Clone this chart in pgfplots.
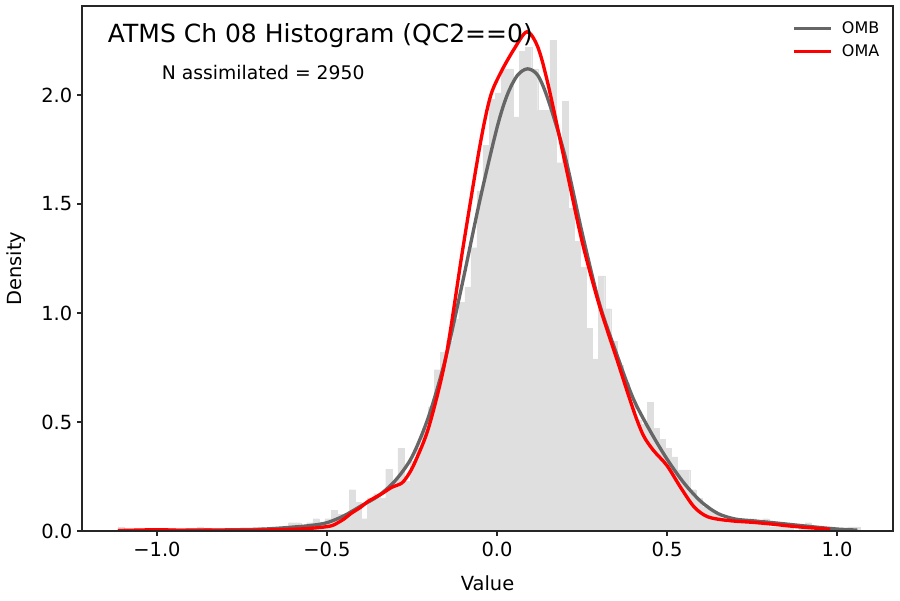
\documentclass[border=0pt]{standalone}
\usepackage{fontspec}
\setmainfont{DejaVu Sans}
\usepackage{pgfplots}
\pgfplotsset{compat=1.18}
\definecolor{histgray}{HTML}{DFDFDF}
\definecolor{ombgray}{HTML}{666666}

% histogram of departures: left bin edges and density (last row closes the final bin)
\pgfplotstableread{
x y
-1.1140 0.019
-1.0961 0
-1.0782 0
-1.0604 0
-1.0425 0
-1.0246 0
-1.0067 0
-0.9888 0
-0.9710 0
-0.9531 0
-0.9352 0
-0.9173 0
-0.8994 0
-0.8816 0.019
-0.8637 0
-0.8458 0
-0.8279 0
-0.8100 0
-0.7922 0
-0.7743 0
-0.7564 0
-0.7385 0
-0.7206 0
-0.7028 0.019
-0.6849 0
-0.6670 0.019
-0.6491 0
-0.6312 0.019
-0.6134 0.038
-0.5955 0.038
-0.5776 0.019
-0.5597 0.038
-0.5418 0.057
-0.5240 0.038
-0.5061 0.057
-0.4882 0.095
-0.4703 0.076
-0.4524 0.076
-0.4346 0.190
-0.4167 0.133
-0.3988 0.057
-0.3809 0.152
-0.3630 0.171
-0.3452 0.152
-0.3273 0.284
-0.3094 0.228
-0.2915 0.380
-0.2736 0.228
-0.2558 0.320
-0.2379 0.380
-0.2200 0.470
-0.2021 0.570
-0.1842 0.740
-0.1664 0.820
-0.1485 0.870
-0.1306 0.970
-0.1127 1.050
-0.0948 1.120
-0.0770 1.300
-0.0591 1.560
-0.0412 1.770
-0.0233 1.980
-0.0054 2.010
0.0124 2.120
0.0303 2.120
0.0482 1.900
0.0661 2.200
0.0840 2.220
0.1018 2.120
0.1197 1.930
0.1376 1.930
0.1555 2.250
0.1734 1.690
0.1912 1.970
0.2091 1.480
0.2270 1.330
0.2449 1.210
0.2628 0.930
0.2806 0.790
0.2985 1.170
0.3164 1.020
0.3343 0.870
0.3522 0.760
0.3700 0.680
0.3879 0.590
0.4058 0.510
0.4237 0.490
0.4416 0.590
0.4594 0.470
0.4773 0.420
0.4952 0.380
0.5131 0.340
0.5310 0.280
0.5488 0.280
0.5667 0.190
0.5846 0.150
0.6025 0.110
0.6204 0.095
0.6382 0.076
0.6561 0.057
0.6740 0.038
0.6919 0.038
0.7098 0.057
0.7276 0.038
0.7455 0.057
0.7634 0.038
0.7813 0.057
0.7992 0.019
0.8170 0.019
0.8349 0.038
0.8528 0.019
0.8707 0
0.8886 0.019
0.9064 0.038
0.9243 0
0.9422 0.019
0.9601 0
0.9780 0.019
0.9958 0
1.0137 0
1.0316 0.019
1.0495 0.019
1.0674 0
}\histdata

% kernel density estimate, OMB
\pgfplotstableread{
x y
-1.115 0.002
-1.000 0.003
-0.900 0.004
-0.800 0.005
-0.700 0.008
-0.650 0.012
-0.600 0.018
-0.550 0.025
-0.500 0.038
-0.450 0.070
-0.400 0.115
-0.350 0.160
-0.300 0.230
-0.250 0.340
-0.200 0.530
-0.150 0.800
-0.100 1.150
-0.050 1.520
0.000 1.850
0.030 2.000
0.060 2.090
0.090 2.120
0.120 2.090
0.150 1.980
0.200 1.720
0.250 1.370
0.300 1.050
0.350 0.820
0.400 0.610
0.450 0.460
0.500 0.330
0.550 0.220
0.600 0.135
0.650 0.080
0.700 0.055
0.750 0.047
0.800 0.040
0.850 0.032
0.900 0.024
0.950 0.016
1.000 0.009
1.060 0.004
}\ombdata

% kernel density estimate, OMA
\pgfplotstableread{
x y
-1.115 0.002
-1.000 0.006
-0.950 0.004
-0.900 0.003
-0.850 0.004
-0.800 0.003
-0.700 0.004
-0.600 0.008
-0.550 0.012
-0.500 0.020
-0.480 0.028
-0.450 0.055
-0.430 0.080
-0.400 0.110
-0.380 0.135
-0.340 0.170
-0.310 0.200
-0.280 0.220
-0.260 0.260
-0.240 0.320
-0.200 0.480
-0.150 0.800
-0.100 1.300
-0.050 1.770
-0.020 1.990
0.010 2.100
0.050 2.210
0.088 2.290
0.120 2.220
0.150 2.050
0.200 1.690
0.250 1.330
0.300 1.040
0.350 0.800
0.400 0.560
0.430 0.440
0.460 0.370
0.500 0.300
0.540 0.200
0.580 0.110
0.620 0.065
0.680 0.048
0.750 0.040
0.800 0.033
0.880 0.020
0.980 0.008
}\omadata

\begin{document}
\begin{tikzpicture}
\path[use as bounding box] (0,0) rectangle (648pt,432pt);
\begin{axis}[
  at={(59.04pt,49.68pt)}, anchor=south west,
  scale only axis, width=583.92pt, height=378pt,
  xmin=-1.2206, xmax=1.1647, ymin=0, ymax=2.4083,
  axis on top,
  axis line style={line width=0.8pt, black!85},
  tick align=outside, major tick length=3.5pt,
  tick style={line width=0.8pt, black!85},
  xtick={-1,-0.5,0,0.5,1},
  xticklabels={−1.0,−0.5,0.0,0.5,1.0},
  ytick={0,0.5,1,1.5,2},
  yticklabels={0.0,0.5,1.0,1.5,2.0},
  xtick pos=bottom, ytick pos=left,
  ticklabel style={font=\fontsize{14}{16}\selectfont},
  xticklabel style={yshift=-1pt},
  xlabel={Value}, ylabel={Density},
  label style={font=\fontsize{14}{16}\selectfont},
  xlabel style={at={(axis description cs:0.5,-0.0989)}, anchor=center},
  ylabel style={at={(axis description cs:-0.0813,0.5)}, anchor=center},
  legend style={draw=none, fill=none, at={(rel axis cs:0.992,0.982)}, anchor=north east,
    nodes={font=\fontsize{11.5}{13}\selectfont, inner sep=2pt}, row sep=2.5pt},
  legend cell align=left,
  legend image code/.code={\draw[#1] (0cm,0cm) -- (0.93cm,0cm); \path (1.1cm,0cm);},
]
\addplot[ybar interval, fill=histgray, draw=histgray, line width=0.1pt, forget plot] table[x=x, y=y] {\histdata};
\addplot[ombgray, line width=2.4pt, smooth] table[x=x, y=y] {\ombdata};
\addlegendentry{OMB}
\addplot[red, line width=2.4pt, smooth] table[x=x, y=y] {\omadata};
\addlegendentry{OMA}
\node[anchor=west, font=\fontsize{18}{21}\selectfont] at (rel axis cs:0.026,0.943) {ATMS Ch 08 Histogram (QC2==0)};
\node[anchor=west, font=\fontsize{13.5}{15}\selectfont] at (rel axis cs:0.0925,0.874) {N assimilated = 2950};
\end{axis}
\end{tikzpicture}
\end{document}
